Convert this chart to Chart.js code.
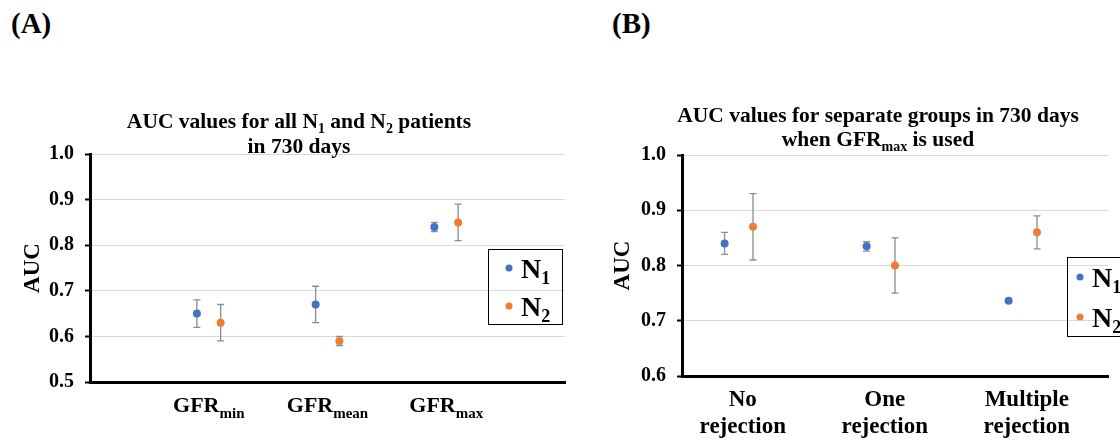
<!DOCTYPE html>
<html><head><meta charset="utf-8">
<script src="https://cdn.jsdelivr.net/npm/chart.js@4"></script>
<style>
html,body{margin:0;padding:0;background:#fff;}
#root{position:relative;width:1120px;height:440px;background:#fff;overflow:hidden;}
.w{position:absolute;top:0;height:440px;}
.lab{position:absolute;top:9px;font:bold 29px/1 "Liberation Serif",serif;color:#000;}
</style></head>
<body><div id="root">
<div class="lab" style="left:11px">(A)</div>
<div class="lab" style="left:612px">(B)</div>
<div class="w" style="left:0;width:590px"><canvas id="cA"></canvas></div>
<div class="w" style="left:590px;width:530px"><canvas id="cB"></canvas></div>
</div>
<script>
// ---- data: chart A ----
const catBaseA = ['GFR', 'GFR', 'GFR'];
const catSubA = ['min', 'mean', 'max'];
const n1A = [0.65, 0.67, 0.84];
const n1A_lo = [0.62, 0.63, 0.83];
const n1A_hi = [0.68, 0.71, 0.85];
const n2A = [0.63, 0.59, 0.85];
const n2A_lo = [0.59, 0.58, 0.81];
const n2A_hi = [0.67, 0.60, 0.89];
const yTicksA = [0.5, 0.6, 0.7, 0.8, 0.9, 1.0];
// ---- data: chart B ----
const catLine1B = ['No', 'One', 'Multiple'];
const catLine2B = ['rejection', 'rejection', 'rejection'];
const n1B = [0.84, 0.835, 0.736];
const n1B_lo = [0.82, 0.826, 0.736];
const n1B_hi = [0.86, 0.843, 0.736];
const n2B = [0.87, 0.80, 0.86];
const n2B_lo = [0.81, 0.75, 0.83];
const n2B_hi = [0.93, 0.85, 0.89];
const yTicksB = [0.6, 0.7, 0.8, 0.9, 1.0];
const seriesNames = ['1', '2']; // N1, N2

const FONT = '"Liberation Serif","Times New Roman",serif';
const BLUE = '#4472C4', ORANGE = '#ED7D31', ERR = '#8c8c8c', GRID = '#d9d9d9';

function drawRich(ctx, segs, x, y, size, subSize, subDy, align) {
  let w = 0;
  const parts = segs.map(s => {
    const f = 'bold ' + (s.sub ? subSize : size) + 'px ' + FONT;
    ctx.font = f;
    const mw = ctx.measureText(s.t).width;
    w += mw;
    return {t: s.t, f, mw, sub: s.sub};
  });
  let cx = align === 'center' ? x - w / 2 : x;
  ctx.textAlign = 'left';
  ctx.textBaseline = 'alphabetic';
  ctx.fillStyle = '#000';
  parts.forEach(p => {
    ctx.font = p.f;
    ctx.fillText(p.t, cx, y + (p.sub ? subDy : 0));
    cx += p.mw;
  });
}

const errorBars = {
  id: 'errorBars',
  beforeDatasetsDraw(chart) {
    const {ctx} = chart;
    const ys = chart.scales.y, xs = chart.scales.x;
    ctx.save();
    ctx.strokeStyle = ERR;
    ctx.lineWidth = 1.3;
    chart.data.datasets.forEach(ds => {
      ds.data.forEach((p, i) => {
        const px = xs.getPixelForValue(p.x);
        const y1 = ys.getPixelForValue(ds.lo[i]);
        const y2 = ys.getPixelForValue(ds.hi[i]);
        ctx.beginPath();
        ctx.moveTo(px, y1); ctx.lineTo(px, y2);
        ctx.moveTo(px - 3.5, y1); ctx.lineTo(px + 3.5, y1);
        ctx.moveTo(px - 3.5, y2); ctx.lineTo(px + 3.5, y2);
        ctx.stroke();
      });
    });
    ctx.restore();
  }
};

function decor(cfg) {
  return {
    id: 'decor',
    afterDraw(chart) {
      const {ctx} = chart;
      const xs = chart.scales.x;
      ctx.save();
      cfg.title.forEach((line, k) => drawRich(ctx, line, cfg.titleX, cfg.titleY[k], cfg.titleSize, cfg.titleSub, 5, 'center'));
      cfg.cats.forEach((c, i) => {
        const px = xs.getPixelForValue(cfg.catPos(i)) + (cfg.labDx || 0);
        c.forEach((line, k) => drawRich(ctx, line, px, cfg.catY[k], cfg.catSize, cfg.catSub, 6, 'center'));
      });
      const L = cfg.legend;
      ctx.strokeStyle = '#000';
      ctx.lineWidth = 1;
      ctx.strokeRect(L.x + 0.5, L.y + 0.5, L.w, L.h);
      [BLUE, ORANGE].forEach((col, k) => {
        ctx.fillStyle = col;
        ctx.beginPath();
        ctx.arc(L.dotX, L.dotY[k], 3.5, 0, Math.PI * 2);
        ctx.fill();
        drawRich(ctx, [{t: 'N'}, {t: seriesNames[k], sub: true}], L.textX, L.dotY[k] + 10, L.size, L.subSize, 6, 'left');
      });
      ctx.restore();
    }
  };
}

function makeChart(id, opt) {
  const ds = (name, vals, lo, hi, col, off) => ({
    label: 'N' + name,
    data: vals.map((v, i) => ({x: opt.catPos(i) + off, y: v})),
    lo, hi,
    backgroundColor: col, borderColor: col,
    pointRadius: 4, pointHoverRadius: 4, pointBorderWidth: 0, showLine: false
  });
  return new Chart(document.getElementById(id), {
    type: 'scatter',
    data: {datasets: [
      ds(seriesNames[0], opt.n1, opt.n1lo, opt.n1hi, BLUE, opt.off1),
      ds(seriesNames[1], opt.n2, opt.n2lo, opt.n2hi, ORANGE, opt.off2)
    ]},
    options: {
      responsive: true, maintainAspectRatio: false, animation: false,
      devicePixelRatio: 1,
      layout: {padding: {left: 0, top: opt.top, right: opt.right, bottom: 0}},
      plugins: {legend: {display: false}, tooltip: {enabled: false}, title: {display: false}},
      scales: {
        x: {
          type: 'linear', min: opt.xmin, max: opt.xmax,
          ticks: {display: false, stepSize: 1},
          grid: {display: false, drawTicks: false},
          border: {display: true, color: '#000', width: 3},
          afterFit: s => { s.height = opt.xh; }
        },
        y: {
          type: 'linear', min: opt.yTicks[0], max: opt.yTicks[opt.yTicks.length - 1],
          afterBuildTicks: s => { s.ticks = opt.yTicks.map(v => ({value: v})); },
          ticks: {
            color: '#000', padding: 11,
            font: {family: FONT, size: 20, weight: 'bold'},
            callback: v => Number(v).toFixed(1)
          },
          grid: {color: GRID, lineWidth: 1, tickLength: 5, tickColor: '#000', tickWidth: 2},
          border: {display: true, color: '#000', width: 3},
          title: {display: true, text: 'AUC', color: '#000', font: {family: FONT, size: 23, weight: 'bold'}, padding: {top: opt.titlePad, bottom: 0}},
          afterFit: s => { s.width = opt.yw; }
        }
      }
    },
    plugins: [errorBars, decor(opt.decor)]
  });
}

// chart A
const posA = i => i + 1;
makeChart('cA', {
  n1: n1A, n1lo: n1A_lo, n1hi: n1A_hi, n2: n2A, n2lo: n2A_lo, n2hi: n2A_hi,
  catPos: posA, off1: -0.1, off2: 0.1, xmin: 0, xmax: 4,
  yTicks: yTicksA, top: 154, right: 25, xh: 58, yw: 90, titlePad: 19,
  decor: {
    title: [
      [{t: 'AUC values for all N'}, {t: '1', sub: true}, {t: ' and N'}, {t: '2', sub: true}, {t: ' patients'}],
      [{t: 'in 730 days'}]
    ],
    titleX: 299, titleY: [128, 153], titleSize: 21.5, titleSub: 14,
    cats: catBaseA.map((b, i) => [[{t: b}, {t: catSubA[i], sub: true}]]),
    catPos: posA, catY: [412], catSize: 22, catSub: 15,
    legend: {x: 488, y: 249, w: 74, h: 75, dotX: 509, dotY: [268, 306], textX: 521, size: 28, subSize: 18}
  }
});

// chart B
const posB = i => i + 0.4;
makeChart('cB', {
  n1: n1B, n1lo: n1B_lo, n1hi: n1B_hi, n2: n2B, n2lo: n2B_lo, n2hi: n2B_hi,
  catPos: posB, off1: -0.1, off2: 0.1, xmin: 0, xmax: 3,
  yTicks: yTicksB, top: 155, right: 12, xh: 64, yw: 92, titlePad: 19,
  decor: {
    title: [
      [{t: 'AUC values for separate groups in 730 days'}],
      [{t: 'when GFR'}, {t: 'max', sub: true}, {t: ' is used'}]
    ],
    titleX: 288, titleY: [122, 146], titleSize: 21.5, titleSub: 14,
    cats: catLine1B.map((a, i) => [[{t: a}], [{t: catLine2B[i]}]]),
    catPos: posB, labDx: 4, catY: [406, 433], catSize: 23, catSub: 15,
    legend: {x: 477, y: 257, w: 80, h: 79, dotX: 490, dotY: [277, 317], textX: 502, size: 28, subSize: 18}
  }
});
</script>
</body></html>
